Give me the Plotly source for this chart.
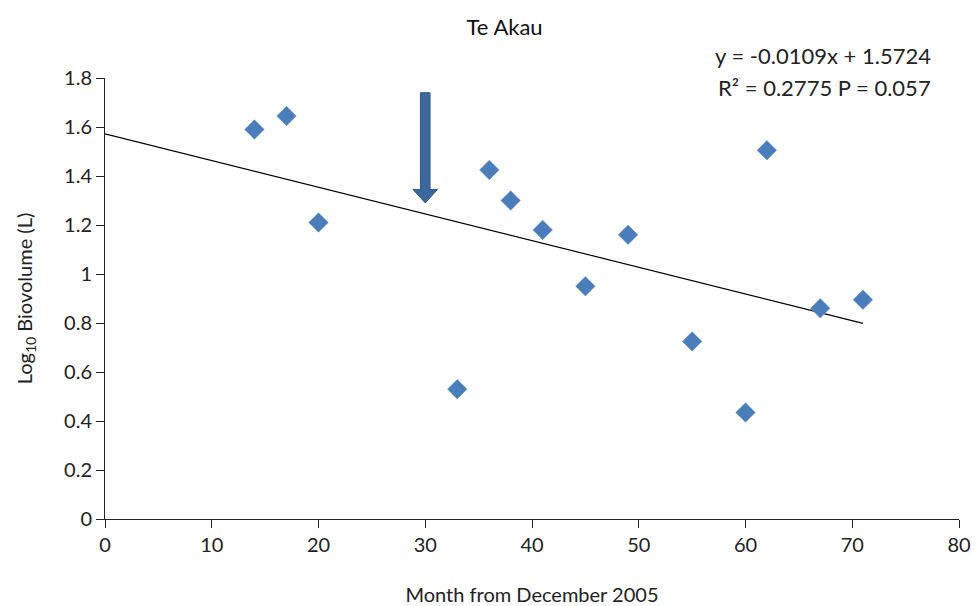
import plotly.graph_objects as go

# Months since December 2005 and log10 biovolume at Te Akau
months = [14, 17, 20, 33, 36, 38, 41, 45, 49, 55, 60, 62, 67, 71]
log_biovolume = [1.59, 1.645, 1.21, 0.53, 1.425, 1.30, 1.18, 0.95, 1.16, 0.725, 0.435, 1.505, 0.86, 0.895]

# Linear fit reported on the chart
slope = -0.0109
intercept = 1.5724
r_squared = 0.2775
p_value = 0.057

# Event marker arrow (month, top and tip of arrow in log10 units)
arrow_month = 30
arrow_top = 1.74
arrow_tip = 1.29

x_ticks = [0, 10, 20, 30, 40, 50, 60, 70, 80]
y_ticks = [0, 0.2, 0.4, 0.6, 0.8, 1, 1.2, 1.4, 1.6, 1.8]

FONT = "Lato, 'Open Sans', sans-serif"

fit_x = [0, max(months)]
fit_y = [intercept + slope * v for v in fit_x]

fig = go.Figure()
fig.add_trace(go.Scatter(
    x=fit_x, y=fit_y, mode="lines",
    line=dict(color="black", width=1.2), hoverinfo="skip", showlegend=False,
))
fig.add_trace(go.Scatter(
    x=months, y=log_biovolume, mode="markers",
    marker=dict(symbol="diamond", size=15, color="#4a7ebb",
                line=dict(color="#5a8cc8", width=0.5)),
    showlegend=False,
))

# Thick downward arrow drawn as a filled path in data coordinates
shaft_half = 0.45
head_half = 1.15
head_len = 0.055
ax = arrow_month
neck = arrow_tip + head_len
arrow_path = (
    f"M {ax - shaft_half},{arrow_top} L {ax + shaft_half},{arrow_top} "
    f"L {ax + shaft_half},{neck} L {ax + head_half},{neck} "
    f"L {ax},{arrow_tip} L {ax - head_half},{neck} "
    f"L {ax - shaft_half},{neck} Z"
)
fig.add_shape(type="path", path=arrow_path, xref="x", yref="y",
              fillcolor="#3b679c", line=dict(color="#2f5a8c", width=1))

# Regression equation and statistics, two lines in the top-right corner
fit_lines = [f"y = {slope}x + {intercept}", f"R² = {r_squared} P = {p_value}"]
for i, line in enumerate(fit_lines):
    fig.add_annotation(
        x=0.970, y=1.052 - i * 0.073, xref="paper", yref="paper",
        xanchor="right", yanchor="middle",
        text=line, showarrow=False,
        font=dict(family=FONT, size=22, color="#222222"),
    )

fig.update_layout(
    width=976, height=606,
    margin=dict(l=105, r=17, t=78, b=87),
    paper_bgcolor="white", plot_bgcolor="white",
    title=dict(text="Te Akau", x=0.517, xanchor="center", y=0.955, yanchor="middle",
               font=dict(family=FONT, size=22, color="#111111")),
    font=dict(family=FONT, size=20, color="#222222"),
    xaxis=dict(
        range=[0, 80], tickvals=x_ticks, showgrid=False, zeroline=False,
        showline=True, linecolor="#222222", linewidth=1,
        ticks="outside", ticklen=8, tickcolor="#222222", automargin=False,
        title=dict(text="Month from December 2005", font=dict(size=20), standoff=36),
        tickfont=dict(size=20),
    ),
    yaxis=dict(
        range=[0, 1.8], tickvals=y_ticks, showgrid=False, zeroline=False,
        showline=True, linecolor="#222222", linewidth=1,
        ticks="outside", ticklen=8, tickcolor="#222222", automargin=False,
        title=dict(text="Log<sub>10</sub> Biovolume (L)", font=dict(size=20), standoff=26),
        tickfont=dict(size=20),
    ),
)

fig.write_html("out.html")
